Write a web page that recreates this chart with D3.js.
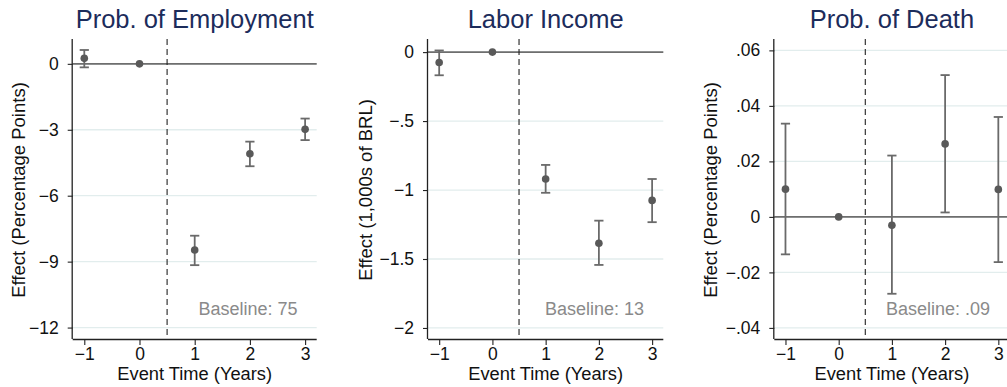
<!DOCTYPE html>
<html>
<head>
<meta charset="utf-8">
<script src="https://cdn.jsdelivr.net/npm/d3@7"></script>
<style>
  html, body { margin: 0; padding: 0; background: #fff; }
  svg { display: block; font-family: "Liberation Sans", Arial, Helvetica, sans-serif; }
</style>
</head>
<body>
<svg id="chart" width="1007" height="387"></svg>
<script>
// Event-study estimates with 95% confidence intervals
const eventTime = [-1, 0, 1, 2, 3];
const xTicks = [-1, 0, 1, 2, 3];

const employmentEst = [0.25, 0, -8.47, -4.09, -2.98];
const employmentLo  = [-0.16, 0, -9.16, -4.66, -3.47];
const employmentHi  = [0.63, 0, -7.82, -3.54, -2.49];
const employmentTicks = [0, -3, -6, -9, -12];

const incomeEst = [-0.075, 0, -0.92, -1.386, -1.075];
const incomeLo  = [-0.168, 0, -1.02, -1.543, -1.233];
const incomeHi  = [0.012, 0, -0.818, -1.222, -0.92];
const incomeTicks = [0, -0.5, -1, -1.5, -2];

const deathEst = [0.010, 0, -0.003, 0.0263, 0.0099];
const deathLo  = [-0.0135, 0, -0.0277, 0.0016, -0.0163];
const deathHi  = [0.0336, 0, 0.0221, 0.0511, 0.036];
const deathTicks = [0.06, 0.04, 0.02, 0, -0.02, -0.04];

const titles = ["Prob. of Employment", "Labor Income", "Prob. of Death"];
const yTitles = ["Effect (Percentage Points)", "Effect (1,000s of BRL)", "Effect (Percentage Points)"];
const baselines = ["Baseline: 75", "Baseline: 13", "Baseline: .09"];
const xTitle = "Event Time (Years)";

// Stata-style number formatting: no leading zero, real minus sign
function stataFmt(v) {
  if (v === 0) return "0";
  let s = String(+v.toFixed(4));
  const neg = s.startsWith("-");
  if (neg) s = s.slice(1);
  if (s.startsWith("0.")) s = s.slice(1);
  return (neg ? "\u2212" : "") + s;
}

const panels = [
  { est: employmentEst, lo: employmentLo, hi: employmentHi, ticks: employmentTicks,
    domain: [-12.52, 1.13], left: 72.7, right: 316.7, yTitleX: 25, baseX: 248 },
  { est: incomeEst, lo: incomeLo, hi: incomeHi, ticks: incomeTicks,
    domain: [-2.08, 0.095], left: 428, right: 663.3, yTitleX: 372, baseX: 594.5 },
  { est: deathEst, lo: deathLo, hi: deathHi, ticks: deathTicks,
    domain: [-0.044, 0.0641], left: 774.3, right: 1009.5, yTitleX: 717, baseX: 938 }
];

const plotTop = 39, plotBottom = 339;
const svg = d3.select("#chart");
const fontStack = "'Liberation Sans', Arial, sans-serif";

panels.forEach((p, i) => {
  const x = d3.scaleLinear().domain([-1.21, 3.21]).range([p.left, p.right]);
  const y = d3.scaleLinear().domain(p.domain).range([plotBottom, plotTop]);
  const g = svg.append("g");

  // light horizontal grid
  g.selectAll("line.grid").data(p.ticks).join("line")
    .attr("class", "grid")
    .attr("x1", p.left).attr("x2", p.right)
    .attr("y1", d => y(d)).attr("y2", d => y(d))
    .attr("stroke", "#e2eded").attr("stroke-width", 1.3);

  // zero reference line
  g.append("line")
    .attr("x1", p.left).attr("x2", p.right)
    .attr("y1", y(0)).attr("y2", y(0))
    .attr("stroke", "#6e6e6e").attr("stroke-width", 1.7);

  // treatment onset
  g.append("line")
    .attr("x1", x(0.5)).attr("x2", x(0.5))
    .attr("y1", plotTop).attr("y2", plotBottom)
    .attr("stroke", "#222").attr("stroke-width", 1.1)
    .attr("stroke-dasharray", "6,4");

  // y axis
  const yAxis = d3.axisLeft(y).tickValues(p.ticks).tickSize(5).tickPadding(9)
    .tickFormat(stataFmt);
  const ya = g.append("g").attr("transform", `translate(${p.left},0)`).call(yAxis);
  ya.select(".domain").attr("d", `M-0.5,${plotTop}V${plotBottom}`).attr("stroke", "#222").attr("stroke-width", 1.3);
  ya.selectAll(".tick line").attr("stroke", "#222").attr("stroke-width", 1.1);
  ya.selectAll(".tick text").attr("fill", "#111").style("font-size", "17.5px")
    .style("font-family", fontStack);

  // x axis
  const xAxis = d3.axisBottom(x).tickValues(xTicks).tickSize(6).tickPadding(3)
    .tickFormat(stataFmt);
  const xa = g.append("g").attr("transform", `translate(0,${plotBottom})`).call(xAxis);
  xa.select(".domain").attr("d", `M${p.left},0.5H${p.right}`).attr("stroke", "#222").attr("stroke-width", 1.3);
  xa.selectAll(".tick line").attr("stroke", "#222").attr("stroke-width", 1.1);
  xa.selectAll(".tick text").attr("fill", "#111").style("font-size", "17.5px")
    .style("font-family", fontStack);

  // confidence intervals with caps
  const rows = eventTime.map((t, k) => ({ t, est: p.est[k], lo: p.lo[k], hi: p.hi[k] }))
    .filter(d => d.hi !== d.lo);
  const cap = 4.6;
  g.selectAll("line.ci").data(rows).join("line")
    .attr("x1", d => x(d.t)).attr("x2", d => x(d.t))
    .attr("y1", d => y(d.lo)).attr("y2", d => y(d.hi))
    .attr("stroke", "#6a6a6a").attr("stroke-width", 1.8);
  g.selectAll("line.capHi").data(rows).join("line")
    .attr("x1", d => x(d.t) - cap).attr("x2", d => x(d.t) + cap)
    .attr("y1", d => y(d.hi)).attr("y2", d => y(d.hi))
    .attr("stroke", "#6a6a6a").attr("stroke-width", 1.8);
  g.selectAll("line.capLo").data(rows).join("line")
    .attr("x1", d => x(d.t) - cap).attr("x2", d => x(d.t) + cap)
    .attr("y1", d => y(d.lo)).attr("y2", d => y(d.lo))
    .attr("stroke", "#6a6a6a").attr("stroke-width", 1.8);

  // point estimates
  g.selectAll("circle").data(eventTime.map((t, k) => ({ t, v: p.est[k] }))).join("circle")
    .attr("cx", d => x(d.t)).attr("cy", d => y(d.v)).attr("r", 3.8)
    .attr("fill", "#595959");

  // titles and labels
  g.append("text")
    .attr("x", (p.left + p.right) / 2).attr("y", 28)
    .attr("text-anchor", "middle").attr("fill", "#1c2c5b")
    .style("font-size", "25.5px").text(titles[i]);

  g.append("text")
    .attr("transform", `translate(${p.yTitleX},190) rotate(-90)`)
    .attr("text-anchor", "middle").attr("fill", "#111")
    .style("font-size", "18.5px").text(yTitles[i]);

  g.append("text")
    .attr("x", (p.left + p.right) / 2).attr("y", 379.5)
    .attr("text-anchor", "middle").attr("fill", "#111")
    .style("font-size", "18.3px").text(xTitle);

  g.append("text")
    .attr("x", p.baseX).attr("y", 315)
    .attr("text-anchor", "middle").attr("fill", "#8a8a8a")
    .style("font-size", "18px").text(baselines[i]);
});
</script>
</body>
</html>
